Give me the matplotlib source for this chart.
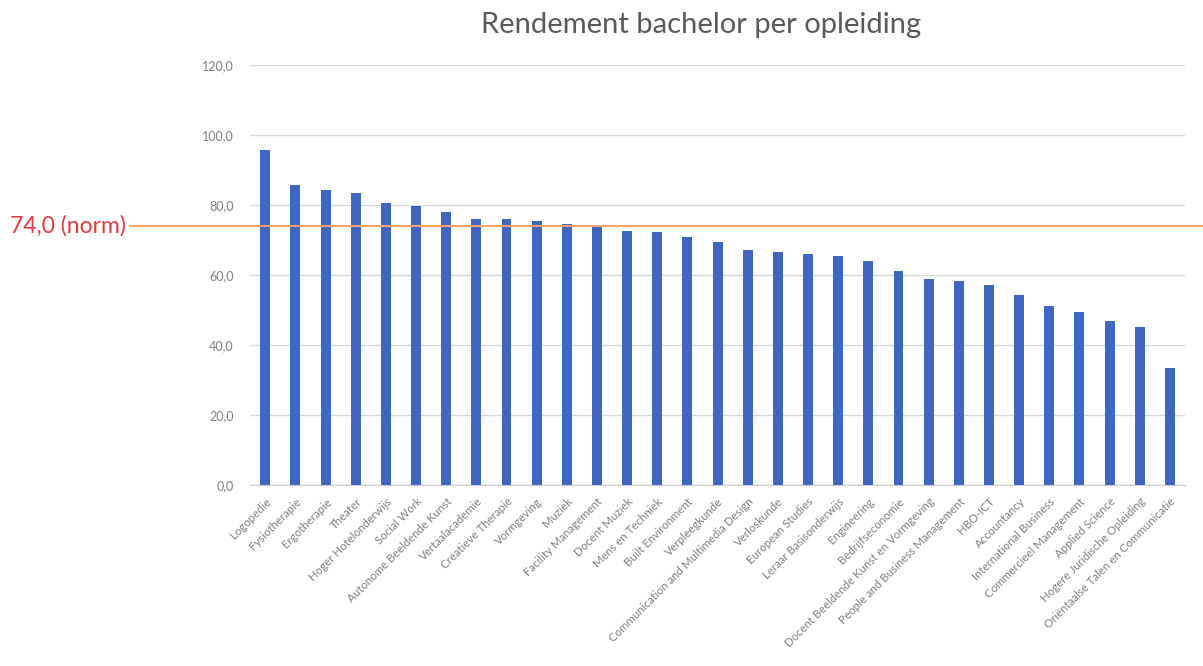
import matplotlib.pyplot as plt
from matplotlib.lines import Line2D
from matplotlib.transforms import blended_transform_factory

# data
opleidingen = [
    'Logopedie', 'Fysiotherapie', 'Ergotherapie', 'Theater', 'Hoger Hotelonderwijs',
    'Social Work', 'Autonome Beeldende Kunst', 'Vertaalacademie', 'Creatieve Therapie',
    'Vormgeving', 'Muziek', 'Facility Management', 'Docent Muziek', 'Mens en Techniek',
    'Built Environment', 'Verpleegkunde', 'Communication and Multimedia Design',
    'Verloskunde', 'European Studies', 'Leraar Basisonderwijs', 'Engineering',
    'Bedrijfseconomie', 'Docent Beeldende Kunst en Vormgeving',
    'People and Business Management', 'HBO-ICT', 'Accountancy', 'International Business',
    'Commercieel Management', 'Applied Science', 'Hogere Juridische Opleiding',
    'Oriëntaalse Talen en Communicatie',
]
rendement = [
    95.7, 85.7, 84.3, 83.5, 80.5, 79.7, 77.9, 76.0, 75.9, 75.5, 74.7, 74.3, 72.7,
    72.2, 71.0, 69.5, 67.1, 66.7, 66.0, 65.4, 64.1, 61.2, 58.9, 58.3, 57.1, 54.3,
    51.1, 49.5, 46.9, 45.1, 33.3,
]
norm = 74.0
y_ticks = [0, 20, 40, 60, 80, 100, 120]

plt.rcParams['font.family'] = ['Lato', 'DejaVu Sans']

fig = plt.figure(figsize=(12.03, 6.66), dpi=100)
ax = fig.add_axes([0.208, 0.272, 0.777, 0.630])

x = range(len(opleidingen))
ax.bar(x, rendement, width=0.33, color='#3d66c6', zorder=3)

ax.set_xlim(-0.5, len(opleidingen) - 0.5)
ax.set_ylim(0, 120)
ax.set_yticks(y_ticks)
ax.set_yticklabels([f'{v:.1f}'.replace('.', ',') for v in y_ticks],
                   fontsize=9, color='#7f7f7f')
ax.set_xticks(list(x))
ax.set_xticklabels(opleidingen, rotation=45, ha='right', rotation_mode='anchor',
                   fontsize=8.3, color='#7f7f7f')
ax.tick_params(axis='y', length=0, pad=12)
ax.tick_params(axis='x', length=0, pad=8)

ax.grid(axis='y', color='#d9d9d9', linewidth=1, zorder=0)
for s in ['top', 'right', 'left']:
    ax.spines[s].set_visible(False)
ax.spines['bottom'].set_color('#d0d0d0')

fig.text(0.583, 0.962, 'Rendement bachelor per opleiding', ha='center', va='center',
         fontsize=21, color='#595959')

# norm line across the figure
tr = blended_transform_factory(fig.transFigure, ax.transData)
ax.add_line(Line2D([130 / 1203, 1.0], [norm, norm], transform=tr, color='#f4a46c',
                   linewidth=1.5, clip_on=False, zorder=4))
ax.text(10 / 1203, norm, f'{norm:.1f}'.replace('.', ',') + ' (norm)', transform=tr,
        ha='left', va='center', fontsize=16.5, color='#e8373f')

fig.savefig('out.png', dpi=100)
